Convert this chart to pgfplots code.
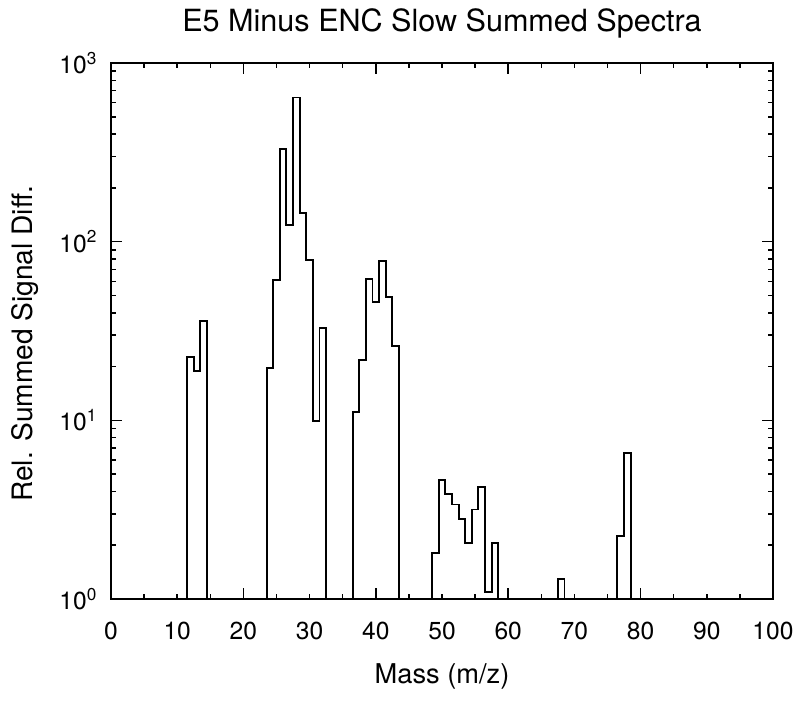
\documentclass[border=0pt]{standalone}
\usepackage{pgfplots}
\pgfplotsset{compat=1.18}
\usepackage{fontspec}
\setmainfont{TeX Gyre Heros}

% spectrum: left bin edge, summed signal difference (1 = empty bin)
\begin{document}
\begin{tikzpicture}
\useasboundingbox (-2.22cm,-2.04cm) rectangle (13.78cm,11.98cm);
\begin{axis}[
    at={(0,0)}, anchor=south west,
    scale only axis,
    width=13.24cm, height=10.72cm,
    ymode=log,
    xmin=0, xmax=100, ymin=1, ymax=1000,
    axis line style={line width=1.1pt},
    tick style={line width=0.9pt, black},
    tick align=inside,
    xtick={0,20,...,100},
    minor x tick num=3,
    extra x ticks={10,30,50,70,90},
    extra x tick style={/pgfplots/major tick length=0pt},
    ytick={1,10,100,1000},
    yticklabels={10\textsuperscript{0},10\textsuperscript{1},10\textsuperscript{2},10\textsuperscript{3}},
    major tick length=0.22cm,
    minor tick length=0.11cm,
    /pgf/number format/assume math mode=true,
    ticklabel style={font=\fontsize{14}{16}\selectfont},
    xticklabel style={yshift=-0.34cm},
    yticklabel style={xshift=-0.15cm},
    title={E5 Minus ENC Slow Summed Spectra},
    title style={font=\fontsize{17.4}{20}\selectfont, at={(0.5,1)}, anchor=base, yshift=0.42cm},
    xlabel={Mass (m/z)},
    xlabel style={font=\fontsize{15.5}{19}\selectfont, at={(0.5,0)}, anchor=base, yshift=-1.68cm},
    ylabel={Rel. Summed Signal Diff.},
    ylabel style={font=\fontsize{16}{19}\selectfont, at={(0,0.476)}, anchor=base, yshift=1.56cm},
]
\addplot[const plot mark left, black, line width=1.1pt] coordinates {
    (0,1)
    (11.5,22.5) (12.5,18.8) (13.5,36) (14.5,1)
    (23.5,19.7) (24.5,61) (25.5,330) (26.5,124) (27.5,641)
    (28.5,145) (29.5,79) (30.5,9.9) (31.5,33) (32.5,1)
    (36.5,11.1) (37.5,21.7) (38.5,61.8) (39.5,46) (40.5,78)
    (41.5,49) (42.5,26) (43.5,1)
    (48.5,1.82) (49.5,4.61) (50.5,3.85) (51.5,3.38) (52.5,2.81)
    (53.5,2.05) (54.5,3.17) (55.5,4.25) (56.5,1.10) (57.5,2.07) (58.5,1)
    (67.5,1.29) (68.5,1)
    (76.5,2.26) (77.5,6.53) (78.5,1)
};
\end{axis}
\end{tikzpicture}
\end{document}
